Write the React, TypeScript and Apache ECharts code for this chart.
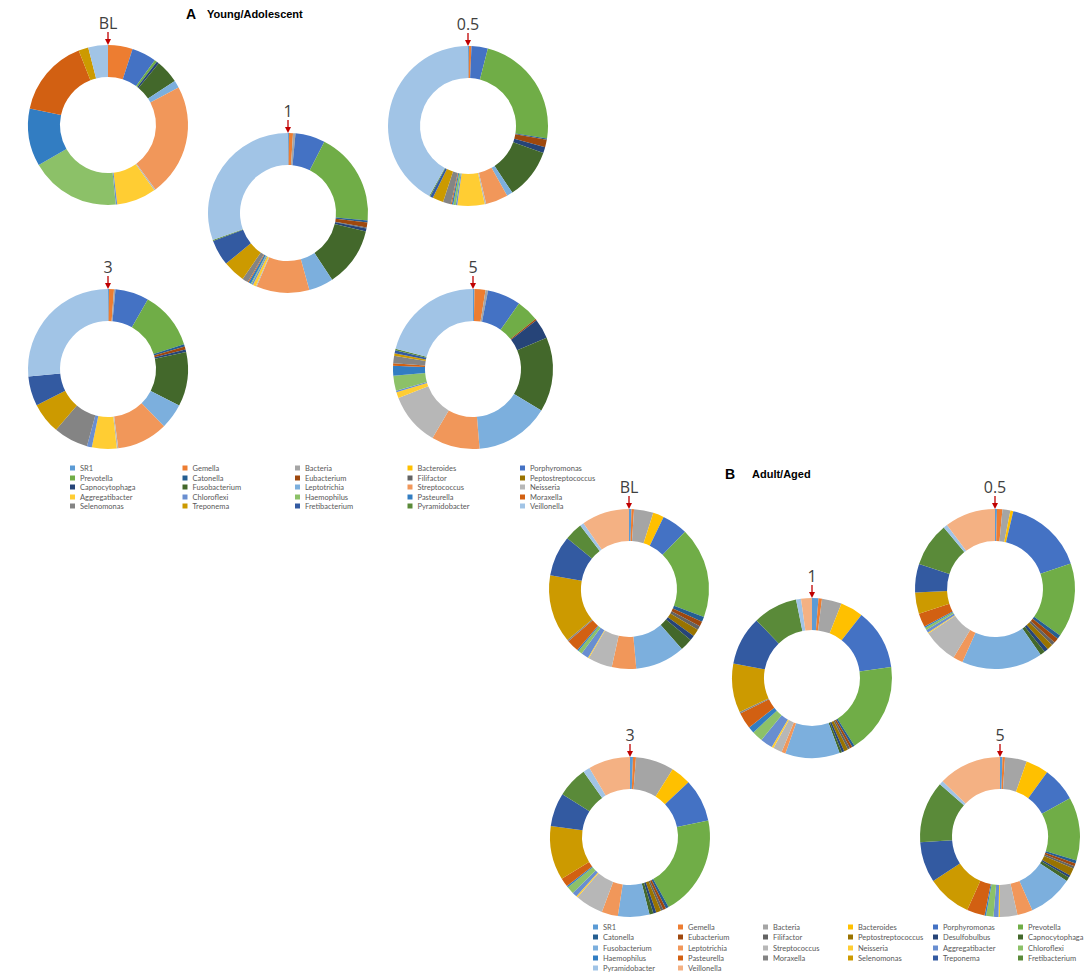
import React, { useEffect, useRef } from 'react';
import * as echarts from 'echarts';

// ---------- data ----------
const taxaA = [
  'SR1', 'Gemella', 'Bacteria', 'Bacteroides', 'Porphyromonas',
  'Prevotella', 'Catonella', 'Eubacterium', 'Filifactor', 'Peptostreptococcus',
  'Capnocytophaga', 'Fusobacterium', 'Leptotrichia', 'Streptococcus', 'Neisseria',
  'Aggregatibacter', 'Chloroflexi', 'Haemophilus', 'Pasteurella', 'Moraxella',
  'Selenomonas', 'Treponema', 'Fretibacterium', 'Pyramidobacter', 'Veillonella',
];
const taxaB = [
  'SR1', 'Gemella', 'Bacteria', 'Bacteroides', 'Porphyromonas', 'Prevotella',
  'Catonella', 'Eubacterium', 'Filifactor', 'Peptostreptococcus', 'Desulfobulbus', 'Capnocytophaga',
  'Fusobacterium', 'Leptotrichia', 'Streptococcus', 'Neisseria', 'Aggregatibacter', 'Chloroflexi',
  'Haemophilus', 'Pasteurella', 'Moraxella', 'Selenomonas', 'Treponema', 'Fretibacterium',
  'Pyramidobacter', 'Veillonella',
];
const timepoints = ['BL', '1', '0.5', '3', '5'];

const youngBL = [0, 5, 0, 0, 5, 0.5, 0, 0, 0, 0, 0.5, 4.8, 1.5, 22.8, 0.3, 8, 0.3, 18.3, 11.7, 15.8, 0, 2, 0, 0, 4];
const young1 = [0.2, 0.8, 0.5, 0, 6, 19, 0.4, 1, 0.2, 0, 0.6, 12, 5, 10.7, 0.2, 0.6, 0.3, 0.2, 0.5, 0.2, 1.2, 4.5, 5.2, 0.2, 30.5];
const young05 = [0.2, 0.5, 0, 0, 3.3, 23.5, 0.3, 1.5, 0, 0, 1.2, 10.2, 1.2, 4.5, 0.3, 5.5, 0.3, 0.5, 0.3, 0.2, 1.6, 2.2, 0.6, 0.2, 42];
const young3 = [0.2, 1, 0.3, 0, 6.8, 11.7, 0.5, 0.6, 0, 0, 0.5, 11, 5.1, 10.3, 0.3, 5, 1, 0, 0, 0, 7, 6.3, 6, 0, 26.5];
const young5 = [0.3, 2.2, 0.5, 0, 6.7, 4.5, 0, 0.3, 0, 0, 4, 15, 14.9, 9.7, 10.6, 1.2, 0.3, 3, 2, 0.5, 1.5, 0.5, 0.6, 0.3, 20.8];

const agedBL = [0.5, 0.5, 3.9, 2.2, 5.2, 18.3, 1, 1, 0.8, 1.5, 1, 2.5, 10, 4.9, 4.9, 0.2, 1.5, 0.8, 0.3, 2.5, 0.3, 13.7, 8.2, 3.6, 0.8, 9.6];
const aged1 = [1.3, 0.7, 4, 4.6, 12.2, 18.3, 0.5, 0.5, 0.5, 0.8, 0.5, 0.5, 11, 0.8, 1.8, 0.4, 2.5, 2.2, 1.3, 3.3, 0.3, 9.9, 9.9, 9, 1, 2.2];
const aged05 = [0.4, 1.1, 1.6, 0.6, 16.2, 15.1, 0.8, 1, 0.7, 1.2, 0.8, 1, 16.4, 2, 7, 0.2, 0.6, 0.5, 0.3, 2.8, 0, 4.3, 5.8, 8.9, 0.8, 10.3];
const aged3 = [0.6, 0.6, 7.8, 4.1, 8.7, 20.4, 0.6, 0.6, 0.5, 1, 0.6, 0.8, 6.4, 3.3, 5.7, 0.3, 1, 1.5, 0.3, 1.8, 0, 11, 6.8, 6.2, 1.4, 8.5];
const aged5 = [0.5, 0.5, 4.4, 4.6, 6.9, 12.8, 0.6, 0.6, 0.5, 1.5, 0.5, 0.8, 9.1, 3.1, 3.5, 0.3, 1, 1.5, 0.3, 3.6, 0, 9, 8.2, 12.5, 0.8, 12.7];

// ---------- styles / layout ----------
const palette = [
  '#5B9BD5', '#ED7D31', '#A5A5A5', '#FFC000', '#4472C4', '#70AD47', '#255E91', '#9E480E',
  '#636363', '#997300', '#264478', '#43682B', '#7CAFDD', '#F1975A', '#B7B7B7', '#FFCD33',
  '#698ED0', '#8CC168', '#327DC2', '#D26012', '#848484', '#CC9A00', '#335AA1', '#5A8A39',
  '#A1C4E6', '#F4B183',
];

type Panel = {
  names: string[];
  values: number[][];
  centers: number[][];
  title: string;
  letter: string;
  letterPos: number[];
  titleX: number;
  legendX: number;
  legendRowsY: number[];
  legendCols: number;
  legendStep: number;
};

const panels: Panel[] = [
  {
    names: taxaA,
    values: [youngBL, young1, young05, young3, young5],
    centers: [[108, 125], [288, 213], [468, 126], [108, 369], [473, 369]],
    title: 'Young/Adolescent',
    letter: 'A',
    letterPos: [191, 14],
    titleX: 207,
    legendX: 70,
    legendRowsY: [468, 478, 487, 497, 506],
    legendCols: 5,
    legendStep: 109.5,
  },
  {
    names: taxaB,
    values: [agedBL, aged1, aged05, aged3, aged5],
    centers: [[629, 589], [812, 678], [995, 589], [630, 837], [1000, 837]],
    title: 'Adult/Aged',
    letter: 'B',
    letterPos: [730, 474],
    titleX: 752,
    legendX: 593,
    legendRowsY: [927, 937, 948, 958, 968],
    legendCols: 6,
    legendStep: 82,
  },
];

const R_OUT = 80;
const R_IN = 48;

function buildOption(p: Panel) {
  const series = p.values.map((vals, k) => ({
    type: 'pie',
    name: timepoints[k],
    radius: [R_IN, R_OUT],
    center: p.centers[k],
    startAngle: 90,
    clockwise: true,
    silent: true,
    avoidLabelOverlap: false,
    label: { show: false },
    labelLine: { show: false },
    emphasis: { disabled: true },
    itemStyle: { borderWidth: 0 },
    data: p.names.map((n, i) => ({ name: n, value: vals[i], itemStyle: { color: palette[i] } })),
  }));

  const legends: any[] = [];
  for (let r = 0; r < p.legendRowsY.length; r++) {
    const row = p.names.slice(r * p.legendCols, (r + 1) * p.legendCols);
    if (!row.length) continue;
    const itemW = 5;
    const gap = 2;
    const itemGap = 6;
    const textW = p.legendStep - itemW - gap - itemGap;
    legends.push({
      orient: 'horizontal',
      left: p.legendX,
      top: p.legendRowsY[r] - 4,
      width: p.legendCols * p.legendStep + 40,
      padding: 0,
      itemWidth: itemW,
      itemHeight: 5,
      itemGap,
      itemTextGap: gap,
      icon: 'rect',
      selectedMode: false,
      data: row,
      textStyle: {
        fontSize: 7.5,
        fontFamily: 'Lato',
        color: '#595959',
        width: textW,
        lineHeight: 8,
        overflow: 'none',
      },
    });
  }

  const graphic: any[] = [];
  p.centers.forEach((c, k) => {
    const top = c[1] - R_OUT;
    graphic.push({
      type: 'text',
      x: c[0],
      y: top - 22,
      style: {
        text: timepoints[k],
        fontSize: 16,
        fontFamily: 'Open Sans',
        fill: '#404040',
        align: 'center',
        verticalAlign: 'middle',
        textAlign: 'center',
        textVerticalAlign: 'middle',
      },
    });
    graphic.push({
      type: 'line',
      shape: { x1: c[0], y1: top - 13, x2: c[0], y2: top - 5 },
      style: { stroke: '#C00000', lineWidth: 1.3 },
    });
    graphic.push({
      type: 'polygon',
      shape: { points: [[c[0] - 3, top - 6], [c[0] + 3, top - 6], [c[0], top]] },
      style: { fill: '#C00000' },
    });
  });
  graphic.push({
    type: 'text',
    x: p.letterPos[0],
    y: p.letterPos[1],
    style: {
      text: p.letter,
      fontSize: 14,
      fontWeight: 'bold',
      fontFamily: 'Liberation Sans',
      fill: '#000',
      align: 'center',
      verticalAlign: 'middle',
      textAlign: 'center',
      textVerticalAlign: 'middle',
    },
  });
  graphic.push({
    type: 'text',
    x: p.titleX,
    y: p.letterPos[1],
    style: {
      text: p.title,
      fontSize: 11,
      fontWeight: 'bold',
      fontFamily: 'Liberation Sans',
      fill: '#000',
      align: 'left',
      verticalAlign: 'middle',
      textAlign: 'left',
      textVerticalAlign: 'middle',
    },
  });

  return {
    animation: false,
    backgroundColor: 'transparent',
    legend: legends,
    series,
    graphic,
  };
}

function PanelChart({ panel }: { panel: Panel }) {
  const ref = useRef<HTMLDivElement>(null);
  useEffect(() => {
    if (!ref.current) return;
    const chart = echarts.init(ref.current, undefined, { renderer: 'svg' });
    chart.setOption(buildOption(panel) as any);
    return () => chart.dispose();
  }, [panel]);
  return (
    <div
      ref={ref}
      style={{ position: 'absolute', left: 0, top: 0, width: 1084, height: 976 }}
    />
  );
}

export default function App() {
  return (
    <div style={{ position: 'absolute', left: 0, top: 0, width: 1084, height: 976, background: '#fff' }}>
      {panels.map((p) => (
        <PanelChart key={p.letter} panel={p} />
      ))}
    </div>
  );
}
